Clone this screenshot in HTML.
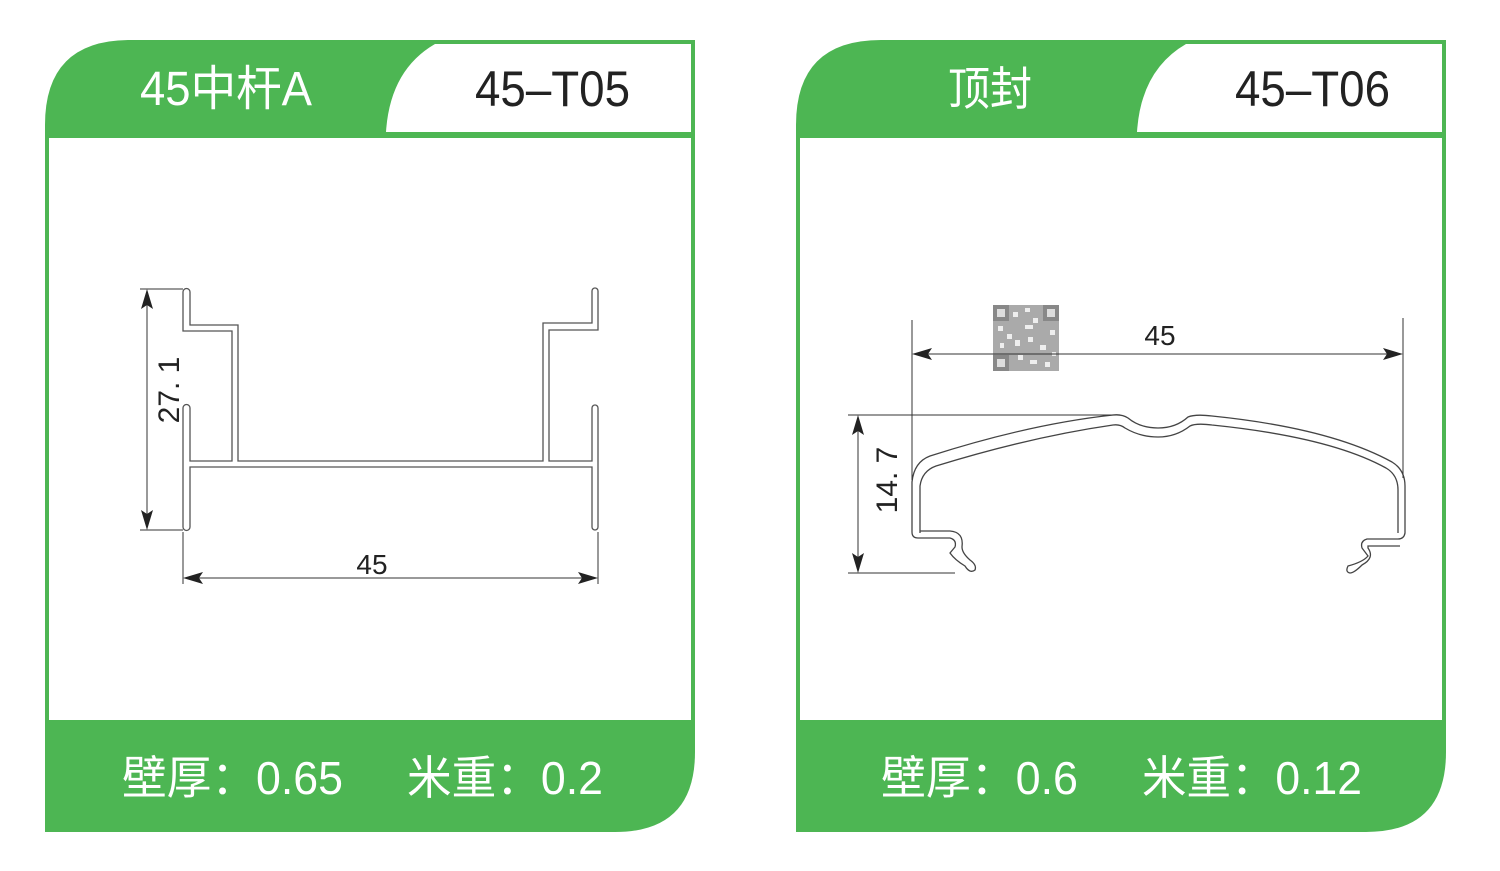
<!DOCTYPE html>
<html><head><meta charset="utf-8"><style>
html,body{margin:0;padding:0;background:#fff;}
svg{display:block;}
text{font-family:"Liberation Sans","Noto Sans CJK SC",sans-serif;}
</style></head><body>
<svg width="1500" height="871" viewBox="0 0 1500 871" xmlns="http://www.w3.org/2000/svg">

<!-- LEFT CARD -->
<g>
<path d="M130,40 L695,40 L695,752 Q695,832 615,832 L45,832 L45,125 Q45,40 130,40 Z" fill="#4db653"/>
<path d="M435,44 L691,44 L691,132 L386,132 Q390,70 435,44 Z" fill="#fff"/>
<rect x="49" y="138" width="642" height="582" fill="#fff"/>
<text x="140" y="105" font-size="48" fill="#fff" textLength="172" lengthAdjust="spacingAndGlyphs">45中杆A</text>
<text x="475" y="106" font-size="50" fill="#222" textLength="155" lengthAdjust="spacingAndGlyphs">45–T05</text>
<text x="122" y="794" font-size="46" fill="#fff" textLength="221" lengthAdjust="spacingAndGlyphs">壁厚：0.65</text>
<text x="407" y="794" font-size="46" fill="#fff" textLength="196" lengthAdjust="spacingAndGlyphs">米重：0.2</text>

<path d="M183,292 A3.5,3.5 0 0 1 190,292 L190,325 L238,325 L238,461 L543,461 L543,323 L592,323 L592,291 A3,3 0 0 1 598,291 L598,330 L549,330 L549,461 L592,461 L592,408 A3,3 0 0 1 598,408 L598,527 A3,3 0 0 1 592,527 L592,467 L190,467 L190,527 A3.5,3.5 0 0 1 183,527 L183,408 A3.5,3.5 0 0 1 190,408 L190,461 L232,461 L232,331 L183,331 Z" fill="none" stroke="#555" stroke-width="1.3"/>
<g stroke="#333" stroke-width="1" fill="none">
<line x1="140" y1="289" x2="183" y2="289"/>
<line x1="140" y1="530" x2="183" y2="530"/>
<line x1="147" y1="292" x2="147" y2="528"/>
<line x1="183" y1="532" x2="183" y2="584"/>
<line x1="598" y1="532" x2="598" y2="584"/>
<line x1="185" y1="578" x2="596" y2="578"/>
</g>
<g fill="#222">
<polygon points="147,289 141,309 147,305 153,309"/>
<polygon points="147,530 141,510 147,514 153,510"/>
<polygon points="183,578 203,572 199,578 203,584"/>
<polygon points="598,578 578,572 582,578 578,584"/>
</g>
<text transform="translate(179,390) rotate(-90)" font-size="30" fill="#222" text-anchor="middle">27. 1</text>
<text x="372" y="574" font-size="28" fill="#222" text-anchor="middle">45</text>
</g>

<!-- RIGHT CARD -->
<g>
<path d="M881,40 L1446,40 L1446,752 Q1446,832 1366,832 L796,832 L796,125 Q796,40 881,40 Z" fill="#4db653"/>
<path d="M1186,44 L1442,44 L1442,132 L1137,132 Q1141,70 1186,44 Z" fill="#fff"/>
<rect x="800" y="138" width="642" height="582" fill="#fff"/>
<text x="948" y="105" font-size="46" fill="#fff" textLength="84" lengthAdjust="spacingAndGlyphs">顶封</text>
<text x="1235" y="106" font-size="50" fill="#222" textLength="155" lengthAdjust="spacingAndGlyphs">45–T06</text>
<text x="881" y="794" font-size="46" fill="#fff" textLength="197" lengthAdjust="spacingAndGlyphs">壁厚：0.6</text>
<text x="1142" y="794" font-size="46" fill="#fff" textLength="220" lengthAdjust="spacingAndGlyphs">米重：0.12</text>

<!-- QR-like -->
<g>
<rect x="993" y="305" width="66" height="66" fill="#aaa"/>
<rect x="993" y="305" width="16" height="16" fill="#888"/><rect x="997" y="309" width="8" height="8" fill="#ddd"/>
<rect x="1043" y="305" width="16" height="16" fill="#888"/><rect x="1047" y="309" width="8" height="8" fill="#ddd"/>
<rect x="993" y="355" width="16" height="16" fill="#888"/><rect x="997" y="359" width="8" height="8" fill="#ddd"/>
<g fill="#eee">
<rect x="1013" y="312" width="5" height="5"/><rect x="1025" y="308" width="5" height="4"/><rect x="1033" y="318" width="5" height="5"/>
<rect x="1025" y="325" width="8" height="4"/><rect x="998" y="326" width="5" height="5"/><rect x="1007" y="334" width="5" height="5"/>
<rect x="1015" y="340" width="5" height="6"/><rect x="1040" y="345" width="6" height="5"/><rect x="1050" y="330" width="5" height="5"/>
<rect x="1030" y="360" width="7" height="4"/><rect x="1018" y="355" width="5" height="5"/><rect x="1045" y="362" width="5" height="5"/>
<rect x="1000" y="343" width="4" height="5"/><rect x="1028" y="337" width="5" height="5"/><rect x="1052" y="352" width="4" height="4"/>
</g>
</g>

<g stroke="#444" stroke-width="1.3" fill="none">
<path d="M912,532 L912,482 Q914,462 930,456 Q1030,424 1113,415 Q1122,414 1128,418 Q1140,428 1158,428 Q1176,428 1188,417 Q1195,414 1212,416 Q1330,428 1392,462 Q1405,470 1405,486 L1405,533 Q1404,539 1398,539 L1367,539 Q1360,541 1362,548 L1368,556 Q1363,562 1348,566 Q1345,572 1350,573 Q1354,573 1362,565 Q1375,558 1368,548 L1368,546 L1400,546"/>
<path d="M920,533 L920,486 Q922,471 936,466 Q1030,437 1113,425 Q1120,424 1125,428 Q1140,437 1158,437 Q1176,437 1190,426 Q1196,423 1212,425 Q1330,437 1386,468 Q1398,475 1398,490 L1398,533"/>
<path d="M912,532 Q912,538 918,538 L950,538 Q957,540 955,547 L950,553 Q955,560 965,566 Q970,574 975,570 Q977,565 970,560 Q962,553 962,547 Q964,532 950,531 L920,531"/>
</g>
<g stroke="#333" stroke-width="1" fill="none">
<line x1="912" y1="320" x2="912" y2="480"/>
<line x1="1403" y1="318" x2="1403" y2="478"/>
<line x1="914" y1="354" x2="1401" y2="354"/>
<line x1="848" y1="415" x2="1120" y2="415"/>
<line x1="848" y1="573" x2="955" y2="573"/>
<line x1="858" y1="417" x2="858" y2="571"/>
</g>
<g fill="#222">
<polygon points="912,354 932,348 928,354 932,360"/>
<polygon points="1403,354 1383,348 1387,354 1383,360"/>
<polygon points="858,415 852,435 858,431 864,435"/>
<polygon points="858,573 852,553 858,557 864,553"/>
</g>
<text transform="translate(897,480) rotate(-90)" font-size="30" fill="#222" text-anchor="middle">14. 7</text>
<text x="1160" y="345" font-size="28" fill="#222" text-anchor="middle">45</text>
</g>
</svg>
</body></html>
